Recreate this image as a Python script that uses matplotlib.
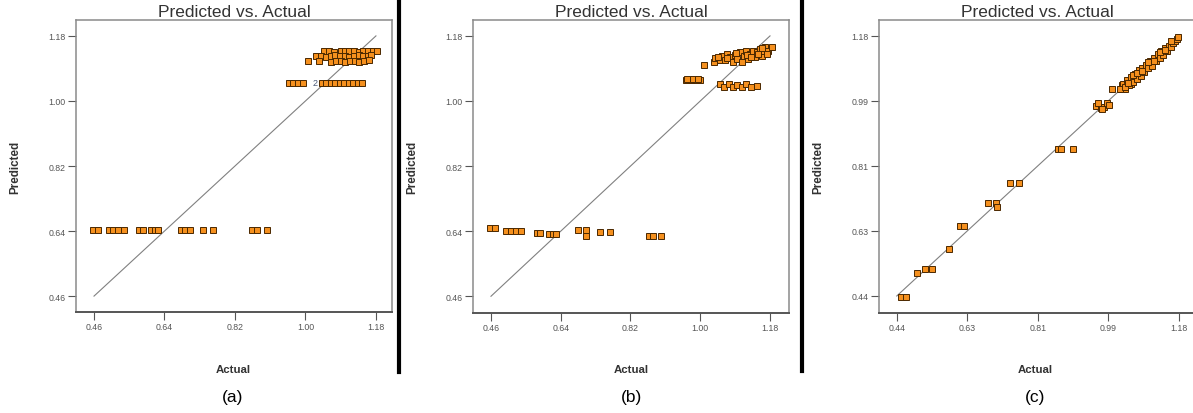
import matplotlib
matplotlib.use("Agg")
import matplotlib.pyplot as plt
from matplotlib.lines import Line2D

plt.rcParams["font.family"] = ["Liberation Sans", "DejaVu Sans"]

W, H = 1193, 414

# ---- panel (a) ----
actual_a = [
    # low row
    0.457, 0.469, 0.497, 0.509, 0.522, 0.537, 0.576, 0.586, 0.606, 0.616, 0.624,
    0.681, 0.693, 0.704, 0.739, 0.763, 0.863, 0.876, 0.902,
    # row near 1.05
    0.958, 0.969, 0.981, 0.993, 1.042, 1.053, 1.065, 1.076, 1.087, 1.099, 1.110,
    1.121, 1.133, 1.144,
    # top cluster
    1.048, 1.060, 1.072, 1.090, 1.100, 1.112, 1.124, 1.136, 1.148, 1.160, 1.172, 1.182,
    1.028, 1.040, 1.052, 1.064, 1.076, 1.088, 1.100, 1.112, 1.124, 1.136, 1.148, 1.160, 1.168,
    1.006, 1.034, 1.066, 1.078, 1.090, 1.102, 1.114, 1.126, 1.138, 1.150, 1.162,
]
predicted_a = [
    0.642, 0.642, 0.642, 0.642, 0.642, 0.642, 0.642, 0.642, 0.642, 0.642, 0.642,
    0.642, 0.642, 0.642, 0.642, 0.642, 0.642, 0.642, 0.642,
    1.050, 1.050, 1.050, 1.050, 1.050, 1.050, 1.050, 1.050, 1.050, 1.050, 1.050,
    1.050, 1.050, 1.050,
    1.137, 1.139, 1.136, 1.138, 1.137, 1.139, 1.138, 1.136, 1.139, 1.137, 1.138, 1.139,
    1.124, 1.125, 1.123, 1.124, 1.126, 1.124, 1.125, 1.123, 1.124, 1.126, 1.124, 1.125, 1.127,
    1.110, 1.110, 1.109, 1.111, 1.110, 1.109, 1.111, 1.110, 1.109, 1.111, 1.112,
]

# ---- panel (b) ----
actual_b = [
    0.458, 0.470, 0.498, 0.512, 0.525, 0.538, 0.578, 0.587, 0.609, 0.619, 0.627,
    0.684, 0.704, 0.704, 0.742, 0.766, 0.867, 0.879, 0.899,
    0.963, 0.976, 0.989, 1.000, 0.966, 0.982, 0.995,
    1.010,
    1.051, 1.062, 1.073, 1.084, 1.096, 1.107, 1.118, 1.130, 1.147,
    1.036, 1.038, 1.051, 1.056, 1.064, 1.068, 1.077, 1.084, 1.090, 1.096, 1.103, 1.107,
    1.113, 1.118, 1.124, 1.128, 1.137, 1.141, 1.147, 1.154, 1.159, 1.163, 1.167, 1.176,
    1.184, 1.171, 1.045, 1.070, 1.092, 1.120, 1.150, 1.160, 1.132,
]
predicted_b = [
    0.648, 0.648, 0.641, 0.641, 0.641, 0.641, 0.636, 0.636, 0.631, 0.631, 0.631,
    0.643, 0.643, 0.627, 0.638, 0.638, 0.628, 0.628, 0.628,
    1.058, 1.058, 1.058, 1.058, 1.062, 1.061, 1.062,
    1.100,
    1.046, 1.040, 1.048, 1.038, 1.044, 1.040, 1.046, 1.040, 1.042,
    1.107, 1.118, 1.114, 1.125, 1.112, 1.130, 1.121, 1.109, 1.127, 1.116, 1.135, 1.107,
    1.124, 1.139, 1.116, 1.130, 1.139, 1.121, 1.135, 1.144, 1.125, 1.139, 1.149, 1.139,
    1.149, 1.130, 1.121, 1.118, 1.133, 1.128, 1.130, 1.147, 1.123,
]

# ---- panel (c) ----
actual_c = [
    0.451, 0.463, 0.494, 0.515, 0.532, 0.578, 0.607, 0.617,
    0.680, 0.700, 0.702, 0.737, 0.761, 0.863, 0.872, 0.903,
    0.962, 0.975, 0.985, 0.992, 0.968, 0.996, 0.980,
    1.006, 1.033, 1.032, 1.042, 1.055,
    1.030, 1.035, 1.040, 1.045, 1.050, 1.055, 1.060, 1.065, 1.070, 1.075,
    1.080, 1.085, 1.090, 1.095, 1.100, 1.105, 1.110, 1.115, 1.120, 1.125,
    1.130, 1.135, 1.140, 1.145, 1.150, 1.155, 1.160, 1.165, 1.170, 1.175,
    1.025, 1.038, 1.048, 1.060, 1.070, 1.085, 1.100, 1.115, 1.130, 1.145, 1.160, 1.178,
]
predicted_c = [
    0.437, 0.437, 0.506, 0.516, 0.516, 0.575, 0.638, 0.638,
    0.706, 0.706, 0.692, 0.762, 0.762, 0.858, 0.858, 0.858,
    0.982, 0.975, 0.978, 0.988, 0.990, 0.983, 0.972,
    1.029, 1.029, 1.040, 1.040, 1.042,
    1.028, 1.042, 1.030, 1.055, 1.040, 1.062, 1.048, 1.072, 1.058, 1.082,
    1.066, 1.090, 1.078, 1.098, 1.088, 1.110, 1.096, 1.118, 1.108, 1.128,
    1.116, 1.138, 1.126, 1.146, 1.138, 1.152, 1.150, 1.160, 1.166, 1.172,
    1.030, 1.035, 1.046, 1.068, 1.075, 1.080, 1.105, 1.108, 1.135, 1.140, 1.165, 1.176,
]

ticks_ab = [0.46, 0.64, 0.82, 1.00, 1.18]
ticklabels_ab = ["0.46", "0.64", "0.82", "1.00", "1.18"]
ticks_c = [0.44, 0.625, 0.81, 0.995, 1.18]
ticklabels_c = ["0.44", "0.63", "0.81", "0.99", "1.18"]

FILL = "#f5901e"
EDGE = "#4a2800"


def px_rect(x0, y0, x1, y1):
    return [x0 / W, 1 - y1 / H, (x1 - x0) / W, (y1 - y0) / H]


def draw_panel(fig, rect, xlim, ylim, ticks, labels, actual, predicted, caption, cx, ylab_x):
    ax = fig.add_axes(px_rect(*rect))
    ax.plot([ticks[0], ticks[-1]], [ticks[0], ticks[-1]], color="#808080", lw=0.8, zorder=1)
    ax.plot(actual, predicted, "s", ms=4.1, mfc=FILL, mec=EDGE, mew=0.7, zorder=3)
    ax.set_xlim(*xlim)
    ax.set_ylim(*ylim)
    ax.set_xticks(ticks)
    ax.set_xticklabels(labels)
    ax.set_yticks(ticks)
    ax.set_yticklabels(labels)
    ax.tick_params(direction="out", length=5.5, width=0.8, color="#555555",
                   labelsize=6.3, labelcolor="#555555", pad=2)
    for side in ["top", "right", "left"]:
        ax.spines[side].set_color("#8a8a8a")
        ax.spines[side].set_linewidth(1.1)
    ax.spines["bottom"].set_color("#555555")
    ax.spines["bottom"].set_linewidth(1.4)
    ax.set_title("Predicted vs. Actual", fontsize=12.5, color="#333333", pad=3)
    fig.text(cx / W, 1 - 370 / H, "Actual", fontsize=8.2, fontweight="bold",
             color="#333333", ha="center", va="center")
    fig.text(ylab_x / W, 1 - 167 / H, "Predicted", fontsize=8.4, fontweight="bold",
             color="#333333", ha="center", va="center", rotation=90)
    fig.text(cx / W, 1 - 398 / H, caption, fontsize=12.5, color="black",
             ha="center", va="center")
    return ax


fig = plt.figure(figsize=(W / 100, H / 100), dpi=100)

ax_a = draw_panel(fig, (76, 21, 392, 313), (0.414, 1.221), (0.416, 1.224),
                  ticks_ab, ticklabels_ab, actual_a, predicted_a, "(a)", 233, 15.5)
ax_a.text(1.025, 1.050, "2", fontsize=6.5, color="#4a5a78", ha="center", va="center")

draw_panel(fig, (473, 21, 789, 314), (0.4136, 1.229), (0.4137, 1.224),
           ticks_ab, ticklabels_ab, actual_b, predicted_b, "(b)", 631, 412)

draw_panel(fig, (879, 21, 1196, 314), (0.3934, 1.2256), (0.3916, 1.2255),
           ticks_c, ticklabels_c, actual_c, predicted_c, "(c)", 1035, 818)

# black separators between the panels
for xs, ytop, ybot in [(399, 0, 373), (802, 0, 372)]:
    fig.add_artist(Line2D([xs / W, xs / W], [1 - ytop / H, 1 - ybot / H],
                          transform=fig.transFigure, color="black", lw=3))

fig.savefig("out.png", dpi=100)
